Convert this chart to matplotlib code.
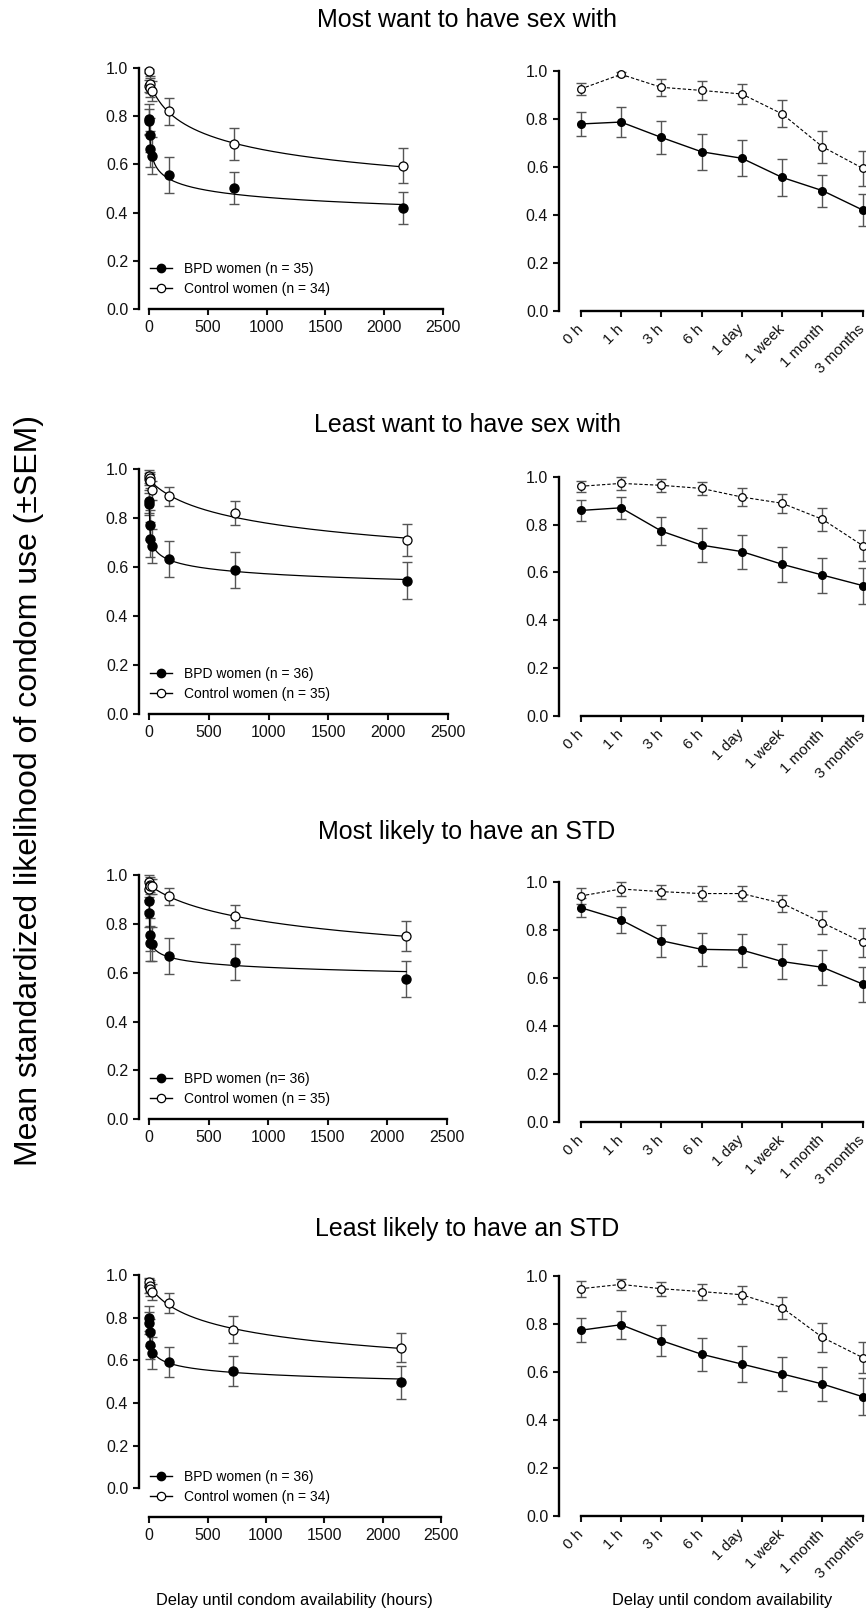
import matplotlib
matplotlib.use('Agg')
import matplotlib.pyplot as plt
from matplotlib.lines import Line2D
import numpy as np

plt.rcParams['font.family'] = ['Liberation Sans', 'DejaVu Sans']

# delays (hours) and their category labels
hours = [0, 1, 3, 6, 24, 168, 720, 2160]
delay_labels = ['0 h', '1 h', '3 h', '6 h', '1 day', '1 week', '1 month', '3 months']

titles = ['Most want to have sex with', 'Least want to have sex with',
          'Most likely to have an STD', 'Least likely to have an STD']
bpd_legend = ['BPD women (n = 35)', 'BPD women (n = 36)', 'BPD women (n= 36)', 'BPD women (n = 36)']
ctrl_legend = ['Control women (n = 34)', 'Control women (n = 35)', 'Control women (n = 35)', 'Control women (n = 34)']

# means and SEMs
bpd_most_want = [0.779, 0.787, 0.723, 0.663, 0.636, 0.556, 0.501, 0.420]
bpd_most_want_sem = [0.052, 0.064, 0.070, 0.074, 0.076, 0.076, 0.067, 0.067]
ctrl_most_want = [0.925, 0.986, 0.932, 0.919, 0.904, 0.821, 0.684, 0.594]
ctrl_most_want_sem = [0.026, 0.008, 0.036, 0.039, 0.042, 0.056, 0.066, 0.073]

bpd_least_want = [0.859, 0.870, 0.773, 0.714, 0.687, 0.634, 0.589, 0.545]
bpd_least_want_sem = [0.045, 0.047, 0.060, 0.070, 0.071, 0.074, 0.073, 0.075]
ctrl_least_want = [0.960, 0.972, 0.964, 0.951, 0.915, 0.889, 0.822, 0.712]
ctrl_least_want_sem = [0.024, 0.027, 0.026, 0.028, 0.039, 0.040, 0.049, 0.065]

bpd_most_std = [0.894, 0.843, 0.756, 0.720, 0.717, 0.669, 0.645, 0.575]
bpd_most_std_sem = [0.040, 0.055, 0.066, 0.070, 0.069, 0.074, 0.074, 0.073]
ctrl_most_std = [0.943, 0.972, 0.961, 0.953, 0.953, 0.912, 0.831, 0.749]
ctrl_most_std_sem = [0.034, 0.028, 0.029, 0.030, 0.030, 0.036, 0.048, 0.062]

bpd_least_std = [0.774, 0.797, 0.731, 0.674, 0.633, 0.592, 0.550, 0.497]
bpd_least_std_sem = [0.051, 0.058, 0.064, 0.069, 0.074, 0.071, 0.071, 0.076]
ctrl_least_std = [0.947, 0.965, 0.947, 0.935, 0.922, 0.868, 0.744, 0.660]
ctrl_least_std_sem = [0.033, 0.022, 0.029, 0.033, 0.037, 0.046, 0.062, 0.066]

rows = [(bpd_most_want, bpd_most_want_sem, ctrl_most_want, ctrl_most_want_sem),
        (bpd_least_want, bpd_least_want_sem, ctrl_least_want, ctrl_least_want_sem),
        (bpd_most_std, bpd_most_std_sem, ctrl_most_std, ctrl_most_std_sem),
        (bpd_least_std, bpd_least_std_sem, ctrl_least_std, ctrl_least_std_sem)]

W, H = 866, 1611
fig = plt.figure(figsize=(W / 100, H / 100), dpi=100)

# pixel layout: (top at y=1, bottom spine), left panels / right panels
left_box = [(68, 309), (469.3, 714.3), (875, 1119.3), (1275, 1516.7)]
left_zero = [309, 714.3, 1119.3, 1488.3]
left_right = [442.7, 447.7, 446.7, 441]
right_box = [(71, 310.7), (476.7, 716), (882.3, 1121.7), (1276, 1516)]
title_y = [20, 424.5, 832, 1229]

GRAY = '#555555'
TICK_FS = 11.5


def hyperboloid_fit(x, y):
    x = np.asarray(x, float)
    y = np.asarray(y, float)
    best = None
    for k in np.logspace(-3, 2, 160):
        for s in np.linspace(0.02, 2.0, 120):
            g = (1 + k * x) ** (-s)
            a = g.dot(y) / g.dot(g)
            r = ((y - a * g) ** 2).sum()
            if best is None or r < best[0]:
                best = (r, a, k, s)
    return best[1:]


def style_axis(ax):
    for side in ['top', 'right']:
        ax.spines[side].set_visible(False)
    for side in ['left', 'bottom']:
        ax.spines[side].set_linewidth(1.7)
    ax.tick_params(width=1.5, length=4.5, labelsize=TICK_FS, colors='#111111')
    ax.spines['left'].set_bounds(0, 1)
    ax.set_yticks([0, 0.2, 0.4, 0.6, 0.8, 1.0])
    ax.set_yticklabels(['0.0', '0.2', '0.4', '0.6', '0.8', '1.0'])


def draw_err(ax, x, y, e):
    c = ax.errorbar(x, y, yerr=e, fmt='none', ecolor=GRAY, elinewidth=1.0,
                    capsize=3.3, capthick=1.0, zorder=2)
    for a in list(c.lines[1]) + list(c.lines[2]):
        a.set_clip_on(False)


for i, (bpd, bpd_e, ctrl, ctrl_e) in enumerate(rows):
    # left panel: hours scale with fitted curves
    top, bot = left_box[i]
    xl, xr = 139.3, left_right[i]
    ax = fig.add_axes([xl / W, 1 - bot / H, (xr - xl) / W, (bot - top) / H])
    span = xr - 149.3
    ax.set_xlim(-(10 / span) * 2500, 2500)
    ylow = -(bot - left_zero[i]) / (left_zero[i] - top)
    ax.set_ylim(ylow, 1)
    style_axis(ax)
    ax.spines['bottom'].set_bounds(0, 2500)
    ax.set_xticks([0, 500, 1000, 1500, 2000, 2500])

    xs = np.linspace(0, 2160, 600)
    for vals in (bpd, ctrl):
        a, k, s = hyperboloid_fit(hours, vals)
        ax.plot(xs, a * (1 + k * xs) ** (-s), color='black', lw=0.9, zorder=3)
    draw_err(ax, hours, bpd, bpd_e)
    draw_err(ax, hours, ctrl, ctrl_e)
    ax.plot(hours, bpd, 'o', color='black', ms=6.5, zorder=4, clip_on=False)
    ax.plot(hours, ctrl, 'o', mfc='white', mec='black', mew=0.9, ms=6.5, zorder=4, clip_on=False)

    handles = [Line2D([], [], color='black', lw=1.0, marker='o', ms=6, mfc='black'),
               Line2D([], [], color='black', lw=1.0, marker='o', ms=6, mfc='white', mew=0.9)]
    ax.legend(handles, [bpd_legend[i], ctrl_legend[i]], loc='upper left', frameon=False,
              bbox_to_anchor=(150 / W, 1 - (bot - 47) / H), bbox_transform=fig.transFigure,
              borderpad=0, borderaxespad=0, handlelength=1.6, handletextpad=0.85,
              labelspacing=0.42, fontsize=10)

    # right panel: categorical delays
    top, bot = right_box[i]
    xl, xr = 559.3, 862.7
    ax2 = fig.add_axes([xl / W, 1 - bot / H, (xr - xl) / W, (bot - top) / H])
    cat = np.arange(len(delay_labels))
    ax2.set_xlim(-21.4 / ((xr - 580.7) / 7), 7)
    ax2.set_ylim(0, 1)
    style_axis(ax2)
    ax2.spines['bottom'].set_bounds(0, 7)
    ax2.set_xticks(cat)
    ax2.set_xticklabels(delay_labels, rotation=45, ha='right', va='center',
                        rotation_mode='anchor', fontsize=11)
    ax2.tick_params(axis='x', pad=7)
    draw_err(ax2, cat, bpd, bpd_e)
    draw_err(ax2, cat, ctrl, ctrl_e)
    ax2.plot(cat, bpd, '-o', color='black', lw=1.0, ms=5.5, zorder=4, clip_on=False)
    ax2.plot(cat, ctrl, 'o', linestyle=(0, (3, 1.8)), color='black', lw=0.8, mfc='white',
             mec='black', mew=0.9, ms=5.5, zorder=4, clip_on=False)

    fig.text(467 / W, 1 - title_y[i] / H, titles[i], ha='center', va='center', fontsize=18)

fig.text(29 / W, 1 - 791 / H, 'Mean standardized likelihood of condom use (\u00b1SEM)',
         rotation=90, ha='center', va='center', fontsize=23)
fig.text(294 / W, 1 - 1600 / H, 'Delay until condom availability (hours)',
         ha='center', va='center', fontsize=11.8)
fig.text(722 / W, 1 - 1600 / H, 'Delay until condom availability',
         ha='center', va='center', fontsize=11.8)

fig.savefig('out.png', dpi=100)
